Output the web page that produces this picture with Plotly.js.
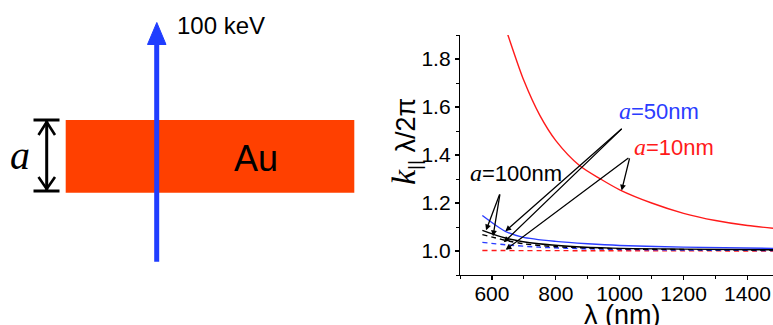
<!DOCTYPE html>
<html>
<head>
<meta charset="utf-8">
<script src="https://cdn.plot.ly/plotly-3.0.1.min.js"></script>
<style>html,body{margin:0;padding:0;background:#fff;}#chart{width:773px;height:325px;}</style>
</head>
<body>
<div id="chart"></div>
<script>
// ---- data ----
const lamRed10   = [640, 650, 700, 750, 800, 875, 940, 1000, 1100, 1200, 1300, 1400, 1480];
const kRed10     = [1.94, 1.90, 1.71, 1.565, 1.46, 1.355, 1.30, 1.255, 1.20, 1.157, 1.127, 1.106, 1.095];
const lamBlue50  = [570, 642, 695, 800, 900, 1000, 1200, 1480];
const kBlue50    = [1.148, 1.082, 1.058, 1.040, 1.030, 1.023, 1.016, 1.011];
const lamBlk100  = [570, 642, 747, 851, 976, 1200, 1480];
const kBlk100    = [1.086, 1.054, 1.030, 1.019, 1.012, 1.008, 1.005];
const lamBlk100d = [570, 601, 650, 700, 800, 1000, 1200, 1480];
const kBlk100d   = [1.068, 1.058, 1.042, 1.030, 1.018, 1.009, 1.006, 1.004];
const lamBlue50d = [570, 642, 747, 900, 1100, 1480];
const kBlue50d   = [1.036, 1.026, 1.016, 1.009, 1.005, 1.002];
const lamRed10d  = [570, 1000, 1480];
const kRed10d    = [1.002, 1.001, 1.000];
const xTickVals  = [600, 800, 1000, 1200, 1400];
const yTickVals  = [1.0, 1.2, 1.4, 1.6, 1.8];

const RED = '#ff1a1a', BLUE = '#2a3cff', BLK = '#000000';
const SANS = 'Liberation Sans, Arial, sans-serif';
const SERIF = 'Liberation Serif, Times New Roman, serif';

function line(x, y, color, dash) {
  return {x: x, y: y, type: 'scatter', mode: 'lines', xaxis: 'x', yaxis: 'y',
    line: {color: color, width: 1.4, dash: dash || 'solid', shape: 'spline', smoothing: 0.8},
    hoverinfo: 'skip', showlegend: false};
}
const traces = [
  line(lamRed10d, kRed10d, RED, '5px,4px'),
  line(lamBlue50d, kBlue50d, BLUE, '5px,4px'),
  line(lamBlk100d, kBlk100d, BLK, '5px,4px'),
  line(lamBlue50, kBlue50, BLUE),
  line(lamBlk100, kBlk100, BLK),
  line(lamRed10, kRed10, RED),
  {x: [], y: [], type: 'scatter', xaxis: 'x2', yaxis: 'y2', showlegend: false, hoverinfo: 'skip'}
];

function arrow(xt, yt, xs, ys) {
  return {x: xt, y: yt, ax: xs, ay: ys, xref: 'x', yref: 'y', axref: 'x', ayref: 'y',
    text: '', showarrow: true, arrowhead: 2, arrowsize: 0.9, arrowwidth: 1.3,
    arrowcolor: '#000', standoff: 0, startstandoff: 0};
}
function lab(x, y, txt, color) {
  return {x: x, y: y, xref: 'x', yref: 'y', showarrow: false,
    text: '<span style="font-family:Liberation Serif;font-size:24px"><i>a</i></span>=' + txt,
    font: {family: SANS, size: 22, color: color}, xanchor: 'center', yanchor: 'middle'};
}

const annotations = [
  arrow(581.5, 1.086, 625.7, 1.242),
  arrow(603.4, 1.061, 625.7, 1.242),
  arrow(642, 1.082, 1011, 1.515),
  arrow(637, 1.036, 1011, 1.515),
  arrow(1006, 1.252, 1032, 1.392),
  arrow(643, 1.005, 1032, 1.392),
  lab(1122, 1.585, '50nm', BLUE),
  lab(1170, 1.434, '10nm', RED),
  lab(674, 1.325, '100nm', BLK),
  // axis titles
  {x: 405 / 773, y: 1 - 142 / 325, xref: 'paper', yref: 'paper', showarrow: false, textangle: -90,
    xanchor: 'center', yanchor: 'middle',
    text: '<span style="font-family:Liberation Serif;font-size:34px"><i>k</i></span><sub>||</sub> λ/2π',
    font: {family: SANS, size: 27, color: '#000'}},
  {x: 622 / 773, y: 1 - 315 / 325, xref: 'paper', yref: 'paper', showarrow: false,
    xanchor: 'center', yanchor: 'middle', text: 'λ (nm)',
    font: {family: SANS, size: 27, color: '#000'}},
  // left diagram texts (pixel coordinates on hidden axes)
  {x: 175, y: 25, xref: 'x2', yref: 'y2', text: '100 keV', showarrow: false,
    xanchor: 'left', yanchor: 'middle', font: {family: SANS, size: 24, color: '#000'}},
  {x: 256, y: 158, xref: 'x2', yref: 'y2', text: 'Au', showarrow: false,
    xanchor: 'center', yanchor: 'middle', font: {family: SANS, size: 36, color: '#000'}},
  {x: 20, y: 155, xref: 'x2', yref: 'y2', text: '<i>a</i>', showarrow: false,
    xanchor: 'center', yanchor: 'middle', font: {family: SERIF, size: 40, color: '#000'}}
];

const shapes = [
  {type: 'rect', xref: 'x2', yref: 'y2', x0: 65.7, x1: 354.3, y0: 120, y1: 192.7,
    fillcolor: '#ff4000', line: {width: 0}},
  {type: 'line', xref: 'x2', yref: 'y2', x0: 156.7, x1: 156.7, y0: 261.7, y1: 42,
    line: {color: '#1f3dff', width: 5}},
  {type: 'path', xref: 'x2', yref: 'y2', path: 'M147.5,44.5 L166,44.5 L156.8,22.5 Z',
    fillcolor: '#1f3dff', line: {color: '#1f3dff', width: 1}},
  {type: 'line', xref: 'x2', yref: 'y2', x0: 46.7, x1: 46.7, y0: 120, y1: 191,
    line: {color: '#000', width: 3}},
  {type: 'line', xref: 'x2', yref: 'y2', x0: 33.5, x1: 59.5, y0: 120, y1: 120,
    line: {color: '#000', width: 3}},
  {type: 'line', xref: 'x2', yref: 'y2', x0: 33.5, x1: 59.5, y0: 191, y1: 191,
    line: {color: '#000', width: 3}},
  {type: 'path', xref: 'x2', yref: 'y2', path: 'M38.5,135 L46.7,122 L55,135',
    line: {color: '#000', width: 2.6}},
  {type: 'path', xref: 'x2', yref: 'y2', path: 'M38.5,177 L46.7,189 L55,177',
    line: {color: '#000', width: 2.6}}
];

const layout = {
  width: 773, height: 325,
  margin: {l: 0, r: 0, t: 0, b: 0, pad: 0},
  paper_bgcolor: '#fff', plot_bgcolor: 'rgba(0,0,0,0)',
  showlegend: false,
  xaxis: {domain: [460 / 773, 1], range: [500, 1480], anchor: 'y',
    showline: true, linecolor: '#000', linewidth: 1.2, mirror: false,
    showgrid: false, zeroline: false, ticks: 'outside', ticklen: 4, tickwidth: 1.2, tickcolor: '#000',
    tickvals: xTickVals, ticktext: xTickVals.map(String),
    minor: {dtick: 100, tick0: 0, ticks: 'outside', ticklen: 2.5, tickwidth: 1, tickcolor: '#000', showgrid: false},
    tickfont: {family: SANS, size: 21, color: '#000'}},
  yaxis: {domain: [50 / 325, 290 / 325], range: [0.9, 1.9], anchor: 'x',
    showline: true, linecolor: '#000', linewidth: 1.2,
    showgrid: false, zeroline: false, ticks: 'outside', ticklen: 4, tickwidth: 1.2, tickcolor: '#000',
    tickvals: yTickVals, ticktext: yTickVals.map(v => v.toFixed(1)),
    minor: {dtick: 0.1, tick0: 0, ticks: 'outside', ticklen: 2.5, tickwidth: 1, tickcolor: '#000', showgrid: false},
    tickfont: {family: SANS, size: 21, color: '#000'}},
  xaxis2: {domain: [0, 0.59], range: [0, 0.59 * 773], visible: false, anchor: 'y2', fixedrange: true},
  yaxis2: {domain: [0, 1], range: [325, 0], visible: false, anchor: 'x2', fixedrange: true},
  shapes: shapes,
  annotations: annotations
};

Plotly.newPlot('chart', traces, layout, {displayModeBar: false, staticPlot: true}).then(function (gd) {
  // nudge x tick labels up slightly to sit as close to the axis as in the reference
  gd.querySelectorAll('.xaxislayer-above .xtick text').forEach(function (t) {
    const tr = t.getAttribute('transform') || '';
    t.setAttribute('transform', tr + ' translate(0,-4)');
  });
});
</script>
</body>
</html>
